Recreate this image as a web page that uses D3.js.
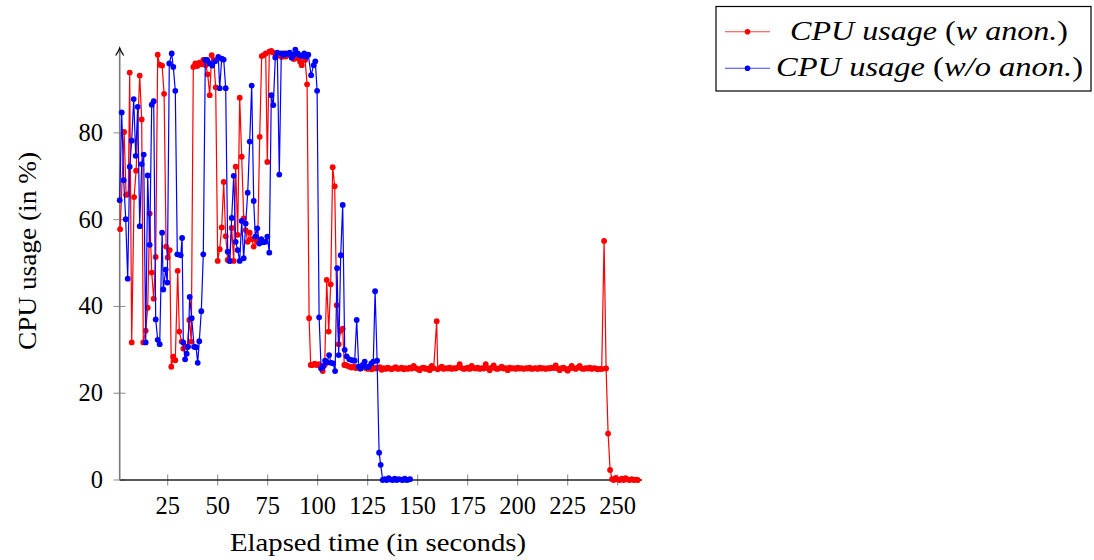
<!DOCTYPE html>
<html>
<head>
<meta charset="utf-8">
<script src="https://cdn.jsdelivr.net/npm/d3@7"></script>
<style>
  body { margin: 0; background: #fff; }
</style>
</head>
<body>
<script>
// sample times (s) and CPU values (%)

let redT = [1.2,3.2,4.2,5.3,6.0,7.0,8.2,9.2,11.0,12.0,12.8,14.0,15.0,16.0,17.0,18.0,19.0,20.0,21.0,22.2,23.2,
  24.2,25.0,26.0,26.8,27.8,28.8,30.0,30.8,32.0,32.8,33.8,34.8,35.8,36.8,37.8,38.8,39.8,40.8,41.8,42.8,
  44,45,46,47,48,49,50,51,52,53,54,55,56,57,58,59,60,61,62,63,64,65,66,67,68,69,70,71,72,73,74,
  74.8,75.8,76.8,77.8,79,80,81,82,83,84,85,86,87,88,89,90,91.2,92,93.7,94.7,95.7,96.5,97.5,98.5,99.5,
  100.5,101.5,102.5,103.5,104.5,105.5,106.5,107.5,108.5,109.5,110.5,111.5,112.5,113.3,
  114,115,116,117,118,119,120,121,122,123,124,125,126,127,128,129,130,131,132,133,
  134,135,136,137,138,139,140,141,142,143,144,145,146,147,148,149,150,151,152,153,
  154,155,156,157,158,159.5,160,161,162,163,164,165,166,167,168,169,170,171,172,173,
  174,175,176,177,178,179,180,181,182,183,184,185,186,187,188,189,190,191,192,193,
  194,195,196,197,198,199,200,201,202,203,204,205,206,207,208,209,210,211,212,213,
  214,215,216,217,218,219,220,221,222,223,224,225,226,227,228,229,230,231,232,233,
  234,235,236,237,238,239,240,241,242,243.2,244.2,245.2,246.2,247.2,248,249,250,251,252,253,254,255,256,257,258,259,260];
let redV = [57.8,80.2,65.7,65.9,93.9,31.7,65.2,71.3,93.2,83.1,31.7,34.4,39.7,61.4,47.8,41.8,51.4,98,95.7,95.5,89,
  53.8,51.3,53,26.1,28.4,27.6,48.2,34.2,31.9,30.3,30.7,30.7,36.9,31.9,95.2,96,95.4,96.2,95.8,96.8,
  95.6,93.5,88.7,97.9,96.8,90.5,50.5,53.2,58.2,68.7,56.2,50.7,50.5,58.1,50.5,72.2,56.5,88.1,74.5,60.3,57.6,54.9,57,55.5,53.8,55.5,54.9,79.1,97.7,97.9,98.3,
  73.3,98.7,98.9,98.5,98.2,97.8,98,97.5,98.3,97.6,97.9,98.4,97.5,97,97.8,97.2,96.4,95.6,96.8,91.2,37.3,26.5,26.5,26.8,26.5,
  26.7,26.3,25.1,26.5,46.1,34.2,45.1,72.1,67.7,40.3,31.3,34.4,34.9,26.5,
  26.5,26.3,26.1,25.9,26.2,25.8,26.0,25.7,25.9,26.1,25.8,25.6,26.0,25.5,25.9,25.7,25.8,26.0,25.4,25.8,
  25.6,25.9,25.7,25.5,25.8,26.0,25.6,25.7,25.9,25.5,25.8,25.6,25.9,25.7,26.3,25.8,25.6,25.3,25.8,25.9,
  25.6,25.7,25.3,26.3,25.8,36.6,25.5,25.8,26.1,25.6,25.8,25.7,25.9,25.6,25.8,25.7,25.9,26.7,25.8,25.6,
  25.7,25.9,25.6,26.3,25.8,25.7,25.9,25.6,25.8,25.7,26.7,25.8,25.3,25.9,26.4,25.7,25.6,25.8,26.1,25.7,
  25.8,25.3,25.9,25.7,25.8,25.6,25.9,25.7,25.8,25.6,25.8,25.7,25.9,25.6,25.7,25.8,25.6,25.9,25.7,25.8,
  25.6,25.8,25.7,25.9,25.8,26.4,25.7,25.3,25.8,25.9,25.6,25.2,25.7,26.3,25.8,25.6,25.9,26.3,25.7,25.6,
  25.8,25.7,25.9,25.6,25.8,25.7,25.5,25.6,25.6,55.1,25.7,10.7,2.3,0.2,0,0.5,0.1,0,0.3,0,0.4,0.1,0,0.2,0,0.1,0];

let blueT = [1,2,3,4,5,6,7,8,9,10,11,12,13,14,15,16,17,18,19,20,21,22.2,22.8,24.0,24.8,25.8,27.0,27.8,28.8,29.8,
  31.5,32.2,32.8,33.7,34.5,35.2,36.0,37.0,38.2,39.2,40.0,40.8,41.8,42.8,43.8,44.7,46.0,47.3,48.7,50.3,
  51,52,53,54,55,56,57,58,59,60,61,62,63,64,65,66,67,68,68.8,69.8,70.8,71.8,72.8,73.8,74.8,75.8,76.8,77.8,
  78.8,79.8,80.8,81.8,83,84,85,86,87,88,88.8,90,91,92,93.3,94.3,95.3,96.7,98,98.8,99.7,100.7,101.7,102.7,
  103.7,104.7,105.7,106.7,107.7,108.7,109.7,110.5,111.5,112.5,113.5,114.5,115.8,117.2,118.5,119.5,120.5,121.5,
  122.5,123.5,124.5,125.5,126.8,127.8,128.7,129.7,130.7,131.5,132.5,133.5,134.5,135.5,136.5,137.5,138.5,
  139.5,140.5,141.5,142.5,143.5,144.5,145.5,146.2];
let blueV = [64.5,84.7,69.1,60.1,46.4,72.2,78.2,87.8,74.7,86,58.5,72.8,75,31.7,70.2,54.2,86.5,87.3,37,32.3,31.3,57,43.9,48.5,45.5,96,98.3,95.2,89.7,52,
  51.8,55.8,31.7,27.8,29.1,30.7,42.2,37.3,30.7,30.6,27.0,32,38.9,52,96.8,96.8,96,95.5,96.5,97.5,
  90.3,97.1,96.9,90.3,52.6,50.5,60.4,70.1,54.9,53,50.5,59.7,51.1,59.1,66.2,78,90.9,64.3,56.1,58,54.5,55.5,54.8,54.9,56.1,52.4,88.7,86.4,
  97.4,98.5,70.4,98.3,98,98.3,98.2,98.5,97.3,98,99.2,98.3,97.9,97.7,98.3,97.6,98,93.3,95.6,96.5,89.7,37.5,25.7,26.1,
  27.5,27.1,28.8,27,26.9,25.1,48.8,28.8,51.8,63.4,30,28.5,27.8,27.6,27.5,36.9,26.1,25.7,
  26.5,27.3,26,26.1,26.9,27.3,43.5,27.5,6.3,3.5,0,0.2,0,0.4,0.1,0,0.3,
  0,0.2,0.1,0,0.3,0,0.1,0.2];

let xTicks = [25, 50, 75, 100, 125, 150, 175, 200, 225, 250];
let yTicks = [0, 20, 40, 60, 80];
let legendNames = [["w anon."], ["w/o anon."]];

let font = "'Liberation Serif', 'Times New Roman', 'DejaVu Serif', serif";

let svg = d3.select("body").append("svg")
    .attr("width", 1094)
    .attr("height", 560)
    .attr("font-family", font);

let x = d3.scaleLinear().domain([1, 261.5]).range([119.7, 640.7]);
let y = d3.scaleLinear().domain([0, 99.1]).range([480, 50]);

// axes
let ax = svg.append("g");
ax.selectAll(".xt").data(xTicks).enter().append("line")
    .attr("x1", d => x(d)).attr("x2", d => x(d))
    .attr("y1", 474.5).attr("y2", 485.5)
    .attr("stroke", "#8a8a8a").attr("stroke-width", 1);
ax.selectAll(".yt").data(yTicks).enter().append("line")
    .attr("x1", 113.5).attr("x2", 125.5)
    .attr("y1", d => y(d)).attr("y2", d => y(d))
    .attr("stroke", "#8a8a8a").attr("stroke-width", 1);
ax.append("line")
    .attr("x1", 119.7).attr("x2", 642).attr("y1", 480).attr("y2", 480)
    .attr("stroke", "#222").attr("stroke-width", 1.3);
ax.append("line")
    .attr("x1", 119.7).attr("x2", 119.7).attr("y1", 480).attr("y2", 49)
    .attr("stroke", "#7a7a7a").attr("stroke-width", 1.6);
ax.append("path")
    .attr("d", "M115.7,55.5 Q118.5,51.5 119.7,48 Q120.9,51.5 123.7,55.5")
    .attr("fill", "none").attr("stroke", "#111").attr("stroke-width", 1.3);

ax.selectAll(".xl").data(xTicks).enter().append("text")
    .attr("x", d => x(d)).attr("y", 514)
    .attr("text-anchor", "middle").attr("font-size", 24.5)
    .attr("font-family", font)
    .text(d => d);
ax.selectAll(".yl").data(yTicks).enter().append("text")
    .attr("x", 103).attr("y", d => y(d) + 8)
    .attr("text-anchor", "end").attr("font-size", 24.5)
    .attr("font-family", font)
    .text(d => d);

svg.append("text")
    .attr("x", 378).attr("y", 551)
    .attr("text-anchor", "middle").attr("font-size", 25)
    .attr("font-family", font)
    .attr("textLength", 296).attr("lengthAdjust", "spacingAndGlyphs")
    .text("Elapsed time (in seconds)");
svg.append("text")
    .attr("transform", "translate(36,251) rotate(-90)")
    .attr("text-anchor", "middle").attr("font-size", 25)
    .attr("font-family", font)
    .attr("textLength", 198).attr("lengthAdjust", "spacingAndGlyphs")
    .text("CPU usage (in %)");

// series
let line = d3.line()
    .x(d => x(d[0]))
    .y(d => y(d[1]));

function drawSeries(ts, vs, color) {
  let pts = ts.map((t, i) => [t, vs[i]]);
  let g = svg.append("g");
  g.append("path")
      .attr("d", line(pts))
      .attr("fill", "none")
      .attr("stroke", color)
      .attr("stroke-width", 1.2)
      .attr("stroke-linejoin", "round");
  g.selectAll("circle").data(pts).enter().append("circle")
      .attr("cx", d => x(d[0]))
      .attr("cy", d => y(d[1]))
      .attr("r", 2.9)
      .attr("fill", color);
}

drawSeries(redT, redV, "#ff0000");
drawSeries(blueT, blueV, "#0000ff");

// legend
let lg = svg.append("g");
lg.append("rect")
    .attr("x", 716).attr("y", 6.5).attr("width", 375).attr("height", 84.5)
    .attr("fill", "#fff").attr("stroke", "#000").attr("stroke-width", 1.2);

let colors = ["#ff0000", "#0000ff"];
let rows = [31.7, 68.3];
let textX = [790, 776];
let textW = [278, 307];
legendNames.forEach((n, i) => {
  lg.append("line")
      .attr("x1", 725).attr("x2", 770)
      .attr("y1", rows[i]).attr("y2", rows[i])
      .attr("stroke", colors[i]).attr("stroke-width", 1.1).attr("stroke-opacity", 0.75);
  lg.append("circle")
      .attr("cx", 747.5).attr("cy", rows[i]).attr("r", 2.8)
      .attr("fill", colors[i]);
  let t = lg.append("text")
      .attr("x", textX[i]).attr("y", rows[i] + 8)
      .attr("font-size", 27)
      .attr("font-family", font)
      .attr("textLength", textW[i]).attr("lengthAdjust", "spacingAndGlyphs");
  t.append("tspan").attr("font-style", "italic").text("CPU usage ");
  t.append("tspan").text("(");
  t.append("tspan").attr("font-style", "italic").text(n[0]);
  t.append("tspan").text(")");
});
</script>
</body>
</html>
